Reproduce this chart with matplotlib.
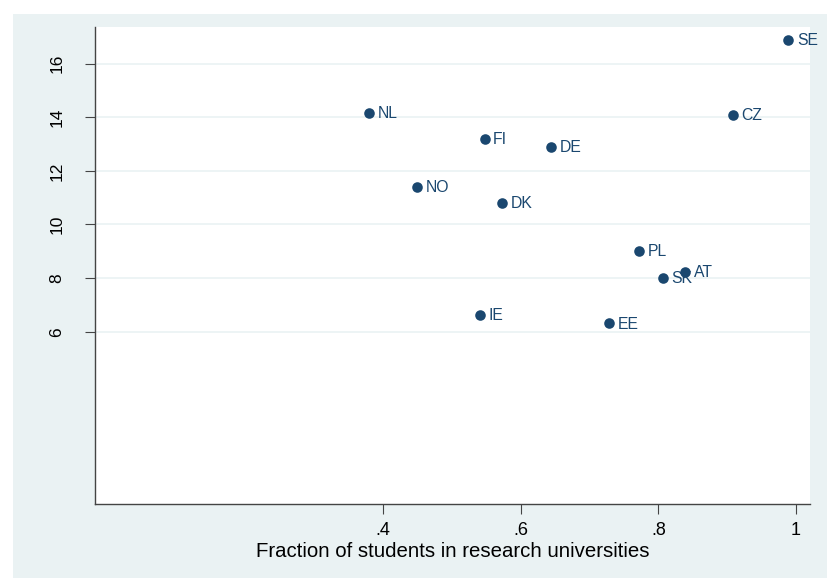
import matplotlib
matplotlib.use("Agg")
import matplotlib.pyplot as plt
from matplotlib.patches import Rectangle

countries = ["NL", "FI", "DE", "NO", "DK", "IE", "EE", "SE", "CZ", "PL", "SK", "AT"]
fraction = [0.380, 0.548, 0.644, 0.450, 0.573, 0.541, 0.729, 0.989, 0.909, 0.772, 0.807, 0.839]
values = [14.17, 13.19, 12.89, 11.39, 10.81, 6.62, 6.31, 16.88, 14.10, 9.01, 8.01, 8.22]
xticks = [0.4, 0.6, 0.8, 1.0]
xticklabels = [".4", ".6", ".8", "1"]
yticks = [6, 8, 10, 12, 14, 16]
xlabel = "Fraction of students in research universities"

plt.rcParams['font.family'] = ['Liberation Sans', 'DejaVu Sans']

W, H = 828, 578
fig = plt.figure(figsize=(W / 100, H / 100), dpi=100)
fig.patch.set_facecolor("white")
bg = "#eaf2f3"
fig.patches.append(Rectangle((13 / W, 0), 1 - 13 / W, 1 - 14 / H,
                             transform=fig.transFigure, facecolor=bg,
                             edgecolor="none", zorder=-10))

ax = fig.add_axes([95 / W, (H - 504) / H, (810 - 95) / W, (504 - 27) / H])
ax.set_zorder(1)
ax.set_facecolor("white")
ax.set_xlim(-0.0183, 1.0203)
ax.set_ylim(-0.43, 17.37)

navy = "#1a476f"
ax.scatter(fraction, values, s=58, color=navy, zorder=3, linewidths=0)
for c, x, y in zip(countries, fraction, values):
    ax.annotate(c, (x, y), xytext=(6, -0.5), textcoords="offset points",
                ha="left", va="center", fontsize=11.3, color=navy, zorder=4)

ax.set_yticks(yticks)
ax.set_yticklabels([str(t) for t in yticks], rotation=90, va="center", fontsize=12.5)
ax.set_xticks(xticks)
ax.set_xticklabels(xticklabels, fontsize=13)
ax.set_xlabel(xlabel, fontsize=14.7, labelpad=2)

ax.grid(axis="y", color=bg, linewidth=1.2, zorder=0)
ax.set_axisbelow(True)
for side in ["top", "right"]:
    ax.spines[side].set_visible(False)
for side in ["left", "bottom"]:
    ax.spines[side].set_color("#444444")
    ax.spines[side].set_linewidth(1.0)
ax.tick_params(axis="both", direction="out", length=7, width=0.8, color="#444444",
               labelcolor="black")
ax.tick_params(axis="x", pad=6)
ax.tick_params(axis="y", pad=15)

fig.savefig("out.png", dpi=100, facecolor=fig.get_facecolor())
